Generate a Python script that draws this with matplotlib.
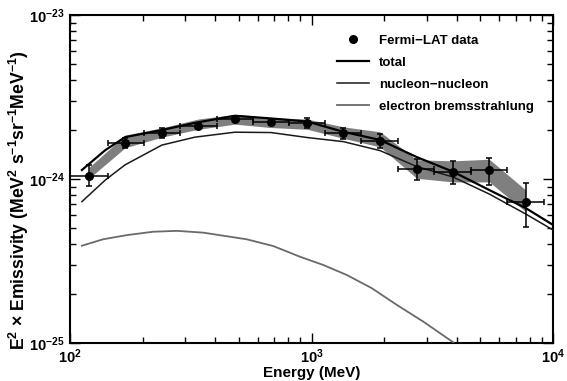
import numpy as np
import matplotlib
matplotlib.use("Agg")
import matplotlib.pyplot as plt
from matplotlib.lines import Line2D
from matplotlib.ticker import LogLocator, NullFormatter

plt.rcParams['font.family'] = ['Liberation Sans', 'DejaVu Sans']
plt.rcParams['font.weight'] = 'bold'
plt.rcParams['mathtext.fontset'] = 'custom'
plt.rcParams['mathtext.rm'] = 'Liberation Sans:bold'
plt.rcParams['mathtext.it'] = 'Liberation Sans:bold:italic'
plt.rcParams['mathtext.bf'] = 'Liberation Sans:bold'

# ---- Fermi-LAT data points ----
energy = [120, 169, 240, 339, 482, 677, 961, 1355, 1923, 2729, 3847, 5445, 7710]
emis = [1.04e-24, 1.66e-24, 1.90e-24, 2.10e-24, 2.32e-24, 2.23e-24, 2.19e-24,
        1.90e-24, 1.71e-24, 1.15e-24, 1.10e-24, 1.13e-24, 7.2e-25]
emis_lo = [0.906e-24, 1.55e-24, 1.77e-24, 2.02e-24, 2.23e-24, 2.13e-24, 2.04e-24,
           1.75e-24, 1.55e-24, 0.987e-24, 0.93e-24, 0.919e-24, 5.1e-25]
emis_hi = [1.21e-24, 1.79e-24, 2.04e-24, 2.20e-24, 2.42e-24, 2.32e-24, 2.35e-24,
           2.05e-24, 1.88e-24, 1.32e-24, 1.29e-24, 1.34e-24, 9.45e-25]
e_lo = [100, 143, 202, 285, 405, 571, 808, 1140, 1610, 2290, 3230, 4570, 6480]
e_hi = [143, 202, 285, 405, 571, 808, 1140, 1610, 2290, 3230, 4570, 6480, 9170]

# systematic band
band_top = [1.18e-24, 1.85e-24, 2.05e-24, 2.32e-24, 2.48e-24, 2.37e-24, 2.32e-24,
            2.08e-24, 1.94e-24, 1.31e-24, 1.29e-24, 1.32e-24, 8.57e-25]
band_bot = [1.01e-24, 1.55e-24, 1.80e-24, 2.01e-24, 2.16e-24, 2.06e-24, 2.01e-24,
            1.77e-24, 1.57e-24, 1.01e-24, 0.96e-24, 0.96e-24, 6.32e-25]

# ---- model curves ----
model_e = [112, 140, 169, 240, 329, 482, 680, 961, 1355, 1923, 2729, 3847,
           5445, 7710, 10000]
total = [1.135e-24, 1.50e-24, 1.80e-24, 1.99e-24, 2.20e-24, 2.43e-24, 2.34e-24,
         2.24e-24, 1.94e-24, 1.73e-24, 1.36e-24, 1.11e-24, 8.57e-25, 6.65e-25,
         5.25e-25]
nucleon = [7.28e-25, 9.86e-25, 1.22e-24, 1.61e-24, 1.80e-24, 1.93e-24, 1.92e-24,
           1.79e-24, 1.69e-24, 1.49e-24, 1.19e-24, 1.03e-24, 8.1e-25, 6.12e-25,
           4.89e-25]
brem_e = [112, 137, 172, 221, 277, 356, 539, 695, 895, 1119, 1399, 1776, 2253,
          2904, 3864]
brem = [3.92e-25, 4.29e-25, 4.55e-25, 4.77e-25, 4.83e-25, 4.71e-25, 4.29e-25,
        3.90e-25, 3.36e-25, 2.99e-25, 2.60e-25, 2.16e-25, 1.71e-25, 1.35e-25,
        1.01e-25]

fig = plt.figure(figsize=(5.67, 3.81), dpi=100)
ax = fig.add_axes([0.1235, 0.0997, 0.8518, 0.8609])

ax.fill_between(energy, band_bot, band_top, color='#7f7f7f', lw=0, zorder=1)
ax.plot(model_e, total, color='black', lw=1.6, zorder=3)
ax.plot(model_e, nucleon, color='#1a1a1a', lw=1.1, zorder=3)
ax.plot(brem_e, brem, color='#6a6a6a', lw=1.3, zorder=3)

emis_a = np.array(emis)
en_a = np.array(energy)
yerr = [emis_a - np.array(emis_lo), np.array(emis_hi) - emis_a]
xerr = [en_a - np.array(e_lo), np.array(e_hi) - en_a]
ax.errorbar(energy, emis, xerr=xerr, yerr=yerr, fmt='o', color='black',
            ms=5.5, elinewidth=1.1, capsize=2, capthick=1.1, zorder=4)

ax.set_xscale('log')
ax.set_yscale('log')
ax.set_xlim(100, 10000)
ax.set_ylim(1e-25, 1e-23)

ax.set_xticks([100, 1000, 10000])
ax.set_xticklabels([r'$10^{2}$', r'$10^{3}$', r'$10^{4}$'])
ax.set_yticks([1e-25, 1e-24, 1e-23])
ax.set_yticklabels([r'$10^{-25}$', r'$10^{-24}$', r'$10^{-23}$'])
ax.xaxis.set_minor_locator(LogLocator(base=10, subs=np.arange(2, 10), numticks=20))
ax.yaxis.set_minor_locator(LogLocator(base=10, subs=np.arange(2, 10), numticks=20))
ax.xaxis.set_minor_formatter(NullFormatter())
ax.yaxis.set_minor_formatter(NullFormatter())
ax.tick_params(which='both', direction='in', top=True, right=True, labelsize=10.5)
ax.tick_params(which='major', length=7, width=1)
ax.tick_params(which='minor', length=4, width=1)
ax.tick_params(axis='x', pad=3)
ax.tick_params(axis='y', pad=4)
for s in ax.spines.values():
    s.set_linewidth(1.5)

ax.set_xlabel('Energy (MeV)', fontsize=11, fontweight='bold', labelpad=0.5)
ax.set_ylabel(r'E$^{2}$ $\times$ Emissivity (MeV$^{2}$ s$^{-1}$sr$^{-1}$MeV$^{-1}$)',
              fontsize=12.7, fontweight='bold')
ax.yaxis.set_label_coords(-0.08, 0.435)

handles = [Line2D([], [], marker='o', color='black', ls='none', ms=5.5),
           Line2D([], [], color='black', lw=1.6),
           Line2D([], [], color='#1a1a1a', lw=1.1),
           Line2D([], [], color='#6a6a6a', lw=1.3)]
labels = ['Fermi\u2212LAT data', 'total', 'nucleon\u2212nucleon', 'electron bremsstrahlung']
ax.legend(handles, labels, loc='upper left', bbox_to_anchor=(0.553, 0.94),
          frameon=False, fontsize=9.5, handlelength=2.4, handletextpad=0.8,
          labelspacing=0.74, borderpad=0, borderaxespad=0)

fig.savefig('out.png', dpi=100)
